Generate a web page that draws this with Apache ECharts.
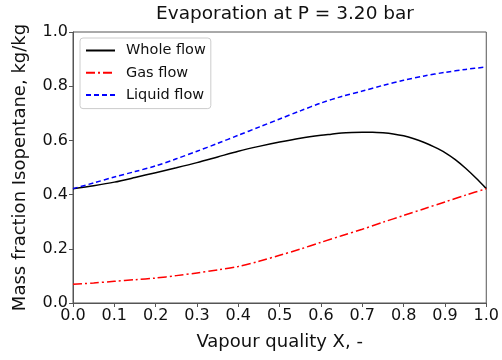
<!DOCTYPE html>
<html><head><meta charset="utf-8">
<script src="https://cdn.jsdelivr.net/npm/echarts@6/dist/echarts.min.js"></script>
<style>html,body{margin:0;padding:0;background:#fff}#c{width:502px;height:360px}</style>
</head><body><div id="c"></div>
<script>
const xWhole = [0,0.05,0.1,0.15,0.2,0.25,0.3,0.35,0.4,0.45,0.5,0.55,0.6,0.625,0.65,0.675,0.7,0.725,0.75,0.775,0.8,0.825,0.85,0.875,0.9,0.925,0.95,0.975,1.0];
const whole  = [0.422,0.433,0.446,0.463,0.481,0.499,0.518,0.539,0.560,0.578,0.594,0.608,0.619,0.623,0.627,0.629,0.630,0.630,0.628,0.624,0.617,0.606,0.592,0.575,0.555,0.529,0.497,0.461,0.422];
const xPhase = [0,0.05,0.1,0.15,0.2,0.25,0.3,0.35,0.4,0.45,0.5,0.55,0.6,0.65,0.7,0.75,0.8,0.85,0.9,0.95,1.0];
const gas    = [0.069,0.074,0.080,0.086,0.092,0.101,0.111,0.122,0.135,0.154,0.176,0.199,0.224,0.248,0.272,0.298,0.323,0.348,0.373,0.398,0.422];
const liquid = [0.422,0.443,0.465,0.485,0.506,0.532,0.560,0.589,0.619,0.649,0.679,0.709,0.738,0.762,0.782,0.803,0.822,0.838,0.851,0.862,0.871];
const xTicks = [0,0.1,0.2,0.3,0.4,0.5,0.6,0.7,0.8,0.9,1.0];
const yTicks = [0,0.2,0.4,0.6,0.8,1.0];

const pair = (xs, ys) => xs.map((x, i) => [x, ys[i]]);
const font = 'DejaVu Sans';
const chart = echarts.init(document.getElementById('c'), null, {renderer: 'canvas'});
const axisCommon = {
  axisLine: {show: true, onZero: false, lineStyle: {color: '#555', width: 1}},
  axisTick: {show: true, length: 4, lineStyle: {color: '#555'}},
  splitLine: {show: false}
};
const labelStyle = {color: '#111', fontFamily: font, fontSize: 16, margin: 5};
chart.setOption({
  animation: false,
  title: {text: 'Evaporation at P = 3.20 bar', left: 280, top: 0, textAlign: 'center',
    textStyle: {fontFamily: font, fontSize: 18.5, fontWeight: 'normal', color: '#111'}},
  grid: {left: 73, right: 15, top: 32, bottom: 57, show: true, borderColor: '#555', borderWidth: 1},
  legend: {
    orient: 'vertical', left: 80, top: 38, padding: [5, 5, 6, 5],
    itemWidth: 29, itemHeight: 14, itemGap: 7.3,
    borderColor: '#ccc', borderWidth: 1, borderRadius: 3, backgroundColor: '#fff',
    itemStyle: {opacity: 0},
    textStyle: {fontFamily: font, fontSize: 14.5, color: '#111', padding: [0, 0, 0, 6]},
    data: ['Whole flow', 'Gas flow', 'Liquid flow']
  },
  xAxis: Object.assign({type: 'value', min: 0, max: 1, interval: 0.1,
    name: 'Vapour quality X, -', nameLocation: 'middle', nameGap: 30,
    nameTextStyle: {fontFamily: font, fontSize: 18, color: '#111'}}, axisCommon,
    {axisLabel: Object.assign({}, labelStyle, {
      formatter: v => xTicks.find(t => Math.abs(t - v) < 1e-9).toFixed(1)})}),
  yAxis: Object.assign({type: 'value', min: 0, max: 1, interval: 0.2,
    name: 'Mass fraction Isopentane, kg/kg', nameLocation: 'middle', nameGap: 44,
    nameTextStyle: {fontFamily: font, fontSize: 18, color: '#111'}}, axisCommon,
    {axisLabel: Object.assign({}, labelStyle, {
      formatter: v => yTicks.find(t => Math.abs(t - v) < 1e-9).toFixed(1)})}),
  series: [
    {name: 'Whole flow', type: 'line', data: pair(xWhole, whole), smooth: 0.3, symbol: 'none',
      lineStyle: {color: '#000', width: 1.5}, itemStyle: {color: '#000'}},
    {name: 'Gas flow', type: 'line', data: pair(xPhase, gas), smooth: 0.3, symbol: 'none',
      lineStyle: {color: '#ff0000', width: 1.5, type: [9, 3, 2, 3]}, itemStyle: {color: '#ff0000'}},
    {name: 'Liquid flow', type: 'line', data: pair(xPhase, liquid), smooth: 0.3, symbol: 'none',
      lineStyle: {color: '#0000ff', width: 1.5, type: [5, 3]}, itemStyle: {color: '#0000ff'}}
  ]
});
</script></body></html>
